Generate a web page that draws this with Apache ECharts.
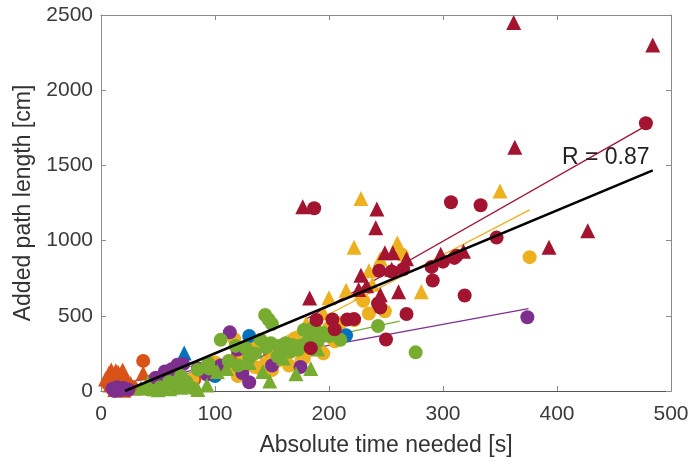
<!DOCTYPE html>
<html>
<head>
<meta charset="utf-8">
<script src="https://cdn.jsdelivr.net/npm/echarts@6/dist/echarts.min.js"></script>
<style>html,body{margin:0;padding:0;background:#fff;}#c{width:693px;height:462px;}</style>
</head>
<body>
<div id="c"></div>
<script>
// Axis ticks
var xTicks = [0, 100, 200, 300, 400, 500];
var yTicks = [0, 500, 1000, 1500, 2000, 2500];

// Orange
var orangeCircles = [[6,50],[10,20],[14,70],[18,35],[22,10],[27,25],[37,200],[45,60],[82,78],[100,115],[148,257],[165,300],[120,240]];
var orangeTriangles = [[4,80],[7,120],[9,140],[11,100],[13,135],[15,125],[17,110],[19,140],[21,95],[23,70],[26,50],[8,40],[16,30],[30,20],[37,120],[12,10],[20,5]];
// Yellow
var yellowCircles = [[264,906],[376,890],[235,515],[249,530],[137,296],[135,160],[120,99],[176,204],[113,164],[100,190],[139,153],[178,219],[117,345],[125,225],[155,200],[165,170],[190,300],[200,420],[210,450],[222,470],[160,240],[145,190],[80,80],[60,40],[185,395],[170,350],[205,330],[230,600],[150,140],[128,260],[195,250]];
var yellowTriangles = [[228,1280],[350,1330],[222,955],[260,985],[281,660],[215,670],[200,620],[238,710],[228,650],[110,180],[130,320],[195,520],[245,880],[235,800],[180,450],[150,260]];
// Blue
var blueCircles = [[54,33],[130,366],[215,370],[18,10],[100,100]];
var blueTriangles = [[73,252],[60,20]];
// Purple
var purpleCircles = [[10,15],[14,25],[17,5],[20,20],[24,8],[12,0],[48,88],[56,130],[62,145],[67,175],[72,180],[85,150],[93,110],[98,150],[113,390],[120,276],[124,120],[130,58],[105,170],[150,170],[175,160],[374,490]];
// Green
var greenCircles = [[144,505],[147,475],[150,445],[105,340],[127,285],[135,250],[130,220],[149,318],[156,300],[162,318],[168,305],[174,300],[158,270],[166,260],[173,275],[178,406],[184,362],[187,428],[243,432],[276,257],[85,142],[94,186],[75,60],[65,45],[70,100],[52,25],[42,10],[118,300],[140,340],[195,385],[200,365],[190,330],[180,320],[210,340],[120,170],[112,200],[95,150],[60,60],[80,20],[155,230],[145,290]];
var greenTriangles = [[142,130],[148,66],[171,115],[184,150],[102,130],[93,40],[41,55],[73,80],[79,35],[60,15],[70,25],[50,8],[35,20],[65,50],[85,10],[110,150],[160,220],[190,280],[130,190]];
// Dark red
var redCircles = [[187,1215],[307,1255],[333,1235],[478,1780],[347,1020],[291,735],[290,825],[300,860],[310,885],[319,635],[244,800],[243,582],[245,555],[268,512],[250,342],[189,472],[203,475],[216,475],[222,478],[205,410],[184,285],[255,795],[312,900],[265,810]];
var redTriangles = [[362,2450],[484,2300],[363,1620],[177,1225],[242,1210],[241,1085],[427,1065],[393,955],[183,618],[249,920],[256,920],[228,770],[255,810],[261,660],[298,910],[318,930],[226,675],[233,700],[245,640],[268,880]];

// Fit lines (endpoints)
var fitBlue = [[10,0],[217,365]];
var fitPurple = [[10,39],[375,547]];
var fitGreen = [[40,100],[262,464]];
var fitYellow = [[150,314],[376,1204]];
var fitRed = [[180,479],[478,1763]];
var fitAll = [[21,0],[484,1467]];
var rText = 'R = 0.87';

var C = {orange:'#D95319', yellow:'#EDB120', blue:'#0072BD', purple:'#7E2F8E', green:'#77AC30', red:'#A2142F'};

function sc(data, color, shape, z) {
  return {type:'scatter', data:data, symbol:shape, symbolSize: shape==='circle'?14:15,
    itemStyle:{color:color, opacity:1}, z:z, silent:true, animation:false};
}
function ln(data, color, w, z) {
  return {type:'line', data:data, symbol:'none', lineStyle:{color:color, width:w}, z:z, silent:true, animation:false};
}

var axisCol = '#8a8a8a';
var labelStyle = {color:'#3a3a3a', fontSize:21, fontFamily:'Liberation Sans', formatter:function(v){return String(v);}};

var chart = echarts.init(document.getElementById('c'), null, {renderer:'canvas'});
chart.setOption({
  backgroundColor:'#fff',
  animation:false,
  grid:{left:101, right:22, top:15, bottom:67, show:false},
  xAxis:[{
    type:'value', min:0, max:500, interval:100, position:'bottom',
    axisLine:{show:true, onZero:false, lineStyle:{color:'#555', width:1}},
    axisTick:{show:true, inside:true, length:5, lineStyle:{color:axisCol}},
    splitLine:{show:false},
    axisLabel:Object.assign({margin:13}, labelStyle),
    name:'Absolute time needed [s]', nameLocation:'middle', nameGap:43,
    nameTextStyle:{color:'#333', fontSize:23, fontFamily:'Liberation Sans'}
  },{
    type:'value', min:0, max:500, interval:100, position:'top',
    axisLine:{show:true, onZero:false, lineStyle:{color:axisCol}},
    axisTick:{show:true, inside:true, length:5, lineStyle:{color:axisCol}},
    axisLabel:{show:false}, splitLine:{show:false}
  }],
  yAxis:[{
    type:'value', min:0, max:2500, interval:500, position:'left',
    axisLine:{show:true, onZero:false, lineStyle:{color:axisCol, width:1}},
    axisTick:{show:true, inside:true, length:5, lineStyle:{color:axisCol}},
    splitLine:{show:false},
    axisLabel:Object.assign({margin:8}, labelStyle),
    name:'Added path length [cm]', nameLocation:'middle', nameGap:56,
    nameTextStyle:{color:'#333', fontSize:23, fontFamily:'Liberation Sans'}
  },{
    type:'value', min:0, max:2500, interval:500, position:'right',
    axisLine:{show:true, onZero:false, lineStyle:{color:axisCol}},
    axisTick:{show:true, inside:true, length:5, lineStyle:{color:axisCol}},
    axisLabel:{show:false}, splitLine:{show:false}
  }],
  graphic:[{type:'text', left:562, top:146, z:30,
    style:{text:rText, fill:'#222', font:'23px "Liberation Sans"'}}],
  series:[
    ln(fitBlue, C.blue, 1.3, 1),
    ln(fitPurple, C.purple, 1.3, 1),
    ln(fitGreen, C.green, 1.3, 1),
    ln(fitYellow, C.yellow, 1.3, 1),
    ln(fitRed, C.red, 1.3, 1),
    sc(orangeTriangles, C.orange, 'triangle', 2),
    sc(orangeCircles, C.orange, 'circle', 2),
    sc(yellowCircles, C.yellow, 'circle', 3),
    sc(yellowTriangles, C.yellow, 'triangle', 3),
    sc(blueCircles, C.blue, 'circle', 4),
    sc(blueTriangles, C.blue, 'triangle', 4),
    sc(purpleCircles, C.purple, 'circle', 5),
    sc(greenCircles, C.green, 'circle', 6),
    sc(greenTriangles, C.green, 'triangle', 6),
    sc(redCircles, C.red, 'circle', 7),
    sc(redTriangles, C.red, 'triangle', 7),
    ln(fitAll, '#000', 2.5, 20)
  ]
});
</script>
</body>
</html>
